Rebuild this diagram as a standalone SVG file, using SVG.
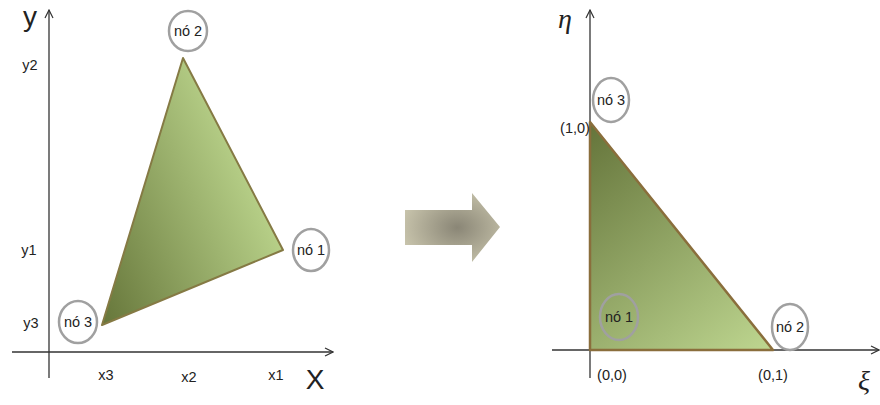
<svg xmlns="http://www.w3.org/2000/svg" width="880" height="405" viewBox="0 0 880 405">
<style>
.ax{stroke:#333;stroke-width:1.3;fill:none}
.ring{fill:#fff;fill-opacity:0;stroke:#a0a0a0;stroke-width:2.5}
.lbl{font-family:"Liberation Sans",Arial,sans-serif;font-size:14.5px;fill:#222;text-anchor:middle}
.big{font-family:"Liberation Sans",Arial,sans-serif;font-size:28px;fill:#222;text-anchor:middle}
.greek{font-family:"Liberation Serif","Times New Roman",serif;font-style:italic;font-size:28px;fill:#222;text-anchor:middle}
</style>
<defs>
<marker id="arr" viewBox="0 0 10 10" refX="9" refY="5" markerWidth="10" markerHeight="10" markerUnits="userSpaceOnUse" orient="auto">
<path d="M1,1 L9,5 L1,9" fill="none" stroke="#333" stroke-width="1.2"/>
</marker>
<linearGradient id="g1" x1="100" y1="320" x2="285" y2="240" gradientUnits="userSpaceOnUse">
<stop offset="0" stop-color="#66763a"/>
<stop offset="1" stop-color="#b9d28a"/>
</linearGradient>
<linearGradient id="g2" x1="590" y1="130" x2="760" y2="350" gradientUnits="userSpaceOnUse">
<stop offset="0" stop-color="#66763c"/>
<stop offset="1" stop-color="#bcd48e"/>
</linearGradient>
<radialGradient id="g3" cx="0.55" cy="0.5" r="0.6">
<stop offset="0" stop-color="#8a8676"/>
<stop offset="1" stop-color="#c8c4ac"/>
</radialGradient>
</defs>

<g id="connectors">
<line class="ax" x1="49" y1="378" x2="49" y2="10" marker-end="url(#arr)"/>
<line class="ax" x1="12" y1="352" x2="333" y2="352" marker-end="url(#arr)"/>
<line class="ax" x1="590" y1="378" x2="590" y2="10" marker-end="url(#arr)"/>
<line class="ax" x1="552" y1="350" x2="879" y2="350" marker-end="url(#arr)"/>
</g>

<g id="triangle-xy">
<polygon points="183,58 283,250 102,325" fill="url(#g1)" stroke="#857a44" stroke-width="2" stroke-linejoin="round"/>
</g>

<g id="triangle-ref">
<polygon points="590,122 773,350 590,350" fill="url(#g2)" stroke="#8a6e3c" stroke-width="2.5" stroke-linejoin="round"/>
</g>

<g id="map-arrow">
<polygon points="405,210 472,210 472,193 500,227 472,262 472,245 405,245" fill="url(#g3)"/>
</g>

<g id="axis-labels-xy">
<text class="big" x="30" y="26" font-size="26">y</text>
<text class="big" x="315" y="389">X</text>
<text class="lbl" x="30" y="70">y2</text>
<text class="lbl" x="29" y="255">y1</text>
<text class="lbl" x="31" y="328">y3</text>
<text class="lbl" x="106" y="380">x3</text>
<text class="lbl" x="189" y="382">x2</text>
<text class="lbl" x="276" y="380">x1</text>
</g>

<g id="node-xy-2">
<ellipse class="ring" cx="188" cy="31" rx="19" ry="20"/>
<text class="lbl" x="188" y="36">nó 2</text>
</g>
<g id="node-xy-1">
<ellipse class="ring" cx="311" cy="250" rx="18" ry="21"/>
<text class="lbl" x="311" y="255">nó 1</text>
</g>
<g id="node-xy-3">
<ellipse class="ring" cx="78" cy="322" rx="19" ry="21"/>
<text class="lbl" x="78" y="327">nó 3</text>
</g>

<g id="axis-labels-ref">
<text class="greek" x="565" y="28">η</text>
<text class="greek" x="864" y="390">ξ</text>
<text class="lbl" x="575" y="133">(1,0)</text>
<text class="lbl" x="612" y="380">(0,0)</text>
<text class="lbl" x="773" y="380">(0,1)</text>
</g>

<g id="node-ref-3">
<ellipse class="ring" cx="611" cy="100" rx="18" ry="22"/>
<text class="lbl" x="611" y="105">nó 3</text>
</g>
<g id="node-ref-1">
<ellipse class="ring" cx="619" cy="317" rx="19" ry="23"/>
<text class="lbl" x="619" y="322">nó 1</text>
</g>
<g id="node-ref-2">
<ellipse class="ring" cx="790" cy="327" rx="18" ry="23"/>
<text class="lbl" x="790" y="332">nó 2</text>
</g>
</svg>
